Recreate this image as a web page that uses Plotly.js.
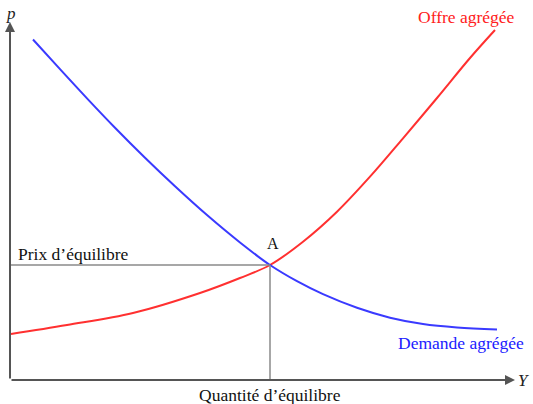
<!DOCTYPE html>
<html>
<head>
<meta charset="utf-8">
<script src="https://cdn.plot.ly/plotly-3.0.1.min.js"></script>
<style>html,body{margin:0;padding:0;background:#fff;}#chart{width:533px;height:404px;}</style>
</head>
<body>
<div id="chart"></div>
<script>
// Demand curve (quantity Y, price p)
const demandY = [23, 50, 77, 105, 135, 165, 197, 230, 260, 287, 313, 347, 380, 413, 447, 487];
const demandP = [340.5, 310.8, 281.6, 252.2, 222.2, 193.7, 164.9, 137.5, 115, 98.8, 85.8, 72.2, 62.3, 56, 52.6, 50.6];
// Supply curve
const supplyY = [1, 57, 123, 190, 230, 260, 293, 327, 360, 393, 427, 460, 485];
const supplyP = [46, 55, 67, 87, 102, 115, 138.3, 168.3, 203.3, 241.7, 282, 322, 350];
// Equilibrium
const eqY = 260, eqP = 115;
const labels = {
  supply: "Offre agrégée",
  demand: "Demande agrégée",
  price: "Prix d\u2019équilibre",
  qty: "Quantité d\u2019équilibre",
  point: "A",
  xName: "Y",
  yName: "p"
};

const fam = "Liberation Serif, serif";

const traces = [
  {x: supplyY, y: supplyP, mode: "lines", line: {color: "#ff3030", width: 2, shape: "spline", smoothing: 1}, hoverinfo: "skip"},
  {x: demandY, y: demandP, mode: "lines", line: {color: "#3a3aff", width: 2, shape: "spline", smoothing: 1}, hoverinfo: "skip"}
];

const layout = {
  width: 533, height: 404,
  margin: {l: 0, r: 0, t: 0, b: 0},
  paper_bgcolor: "#fff", plot_bgcolor: "#fff",
  showlegend: false,
  font: {family: fam},
  xaxis: {range: [-10, 523], visible: false, fixedrange: true},
  yaxis: {range: [-24, 380], visible: false, fixedrange: true},
  shapes: [
    {type: "line", xref: "x", yref: "y", x0: 0, y0: eqP, x1: eqY, y1: eqP, line: {color: "#8a8a8a", width: 1.5}},
    {type: "line", xref: "x", yref: "y", x0: eqY, y0: 0, x1: eqY, y1: eqP, line: {color: "#8a8a8a", width: 1.5}}
  ],
  annotations: [
    {x: 505, y: 0, ax: 0, ay: 0, axref: "x", ayref: "y", xref: "x", yref: "y", text: "", showarrow: true, arrowhead: 2, arrowsize: 1, arrowwidth: 2, arrowcolor: "#555"},
    {x: 0, y: 358, ax: 0, ay: 0, axref: "x", ayref: "y", xref: "x", yref: "y", text: "", showarrow: true, arrowhead: 2, arrowsize: 1, arrowwidth: 2, arrowcolor: "#555"},
    {x: 513, y: 0, xref: "x", yref: "y", text: "<i>" + labels.xName + "</i>", showarrow: false, xanchor: "center", yanchor: "middle", font: {family: fam, size: 17, color: "#222"}},
    {x: 1, y: 367, xref: "x", yref: "y", text: "<i>" + labels.yName + "</i>", showarrow: false, xanchor: "center", yanchor: "middle", font: {family: fam, size: 17, color: "#222"}},
    {x: 456, y: 363, xref: "x", yref: "y", text: labels.supply, showarrow: false, xanchor: "center", yanchor: "middle", font: {family: fam, size: 17.5, color: "#ff2020"}},
    {x: 451, y: 37, xref: "x", yref: "y", text: labels.demand, showarrow: false, xanchor: "center", yanchor: "middle", font: {family: fam, size: 17.5, color: "#2020ff"}},
    {x: 6, y: 126, xref: "x", yref: "y", text: labels.price, showarrow: false, xanchor: "left", yanchor: "middle", font: {family: fam, size: 17.5, color: "#111"}},
    {x: eqY, y: -15, xref: "x", yref: "y", text: labels.qty, showarrow: false, xanchor: "center", yanchor: "middle", font: {family: fam, size: 17.5, color: "#111"}},
    {x: eqY + 3, y: eqP + 22, xref: "x", yref: "y", text: labels.point, showarrow: false, xanchor: "center", yanchor: "middle", font: {family: fam, size: 16, color: "#111"}}
  ]
};

Plotly.newPlot("chart", traces, layout, {staticPlot: true, displayModeBar: false});
</script>
</body>
</html>
